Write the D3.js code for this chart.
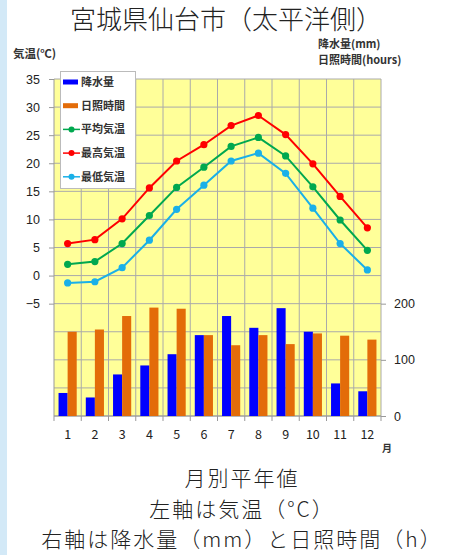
<!DOCTYPE html>
<html>
<head>
<meta charset="utf-8">
<script src="https://cdn.jsdelivr.net/npm/d3@7"></script>
<style>
  body { margin: 0; background: #fff; }
  svg { display: block; font-family: "Noto Sans CJK JP", "Noto Sans", sans-serif; }
</style>
</head>
<body>
<svg id="chart" width="452" height="555"></svg>
<script>
// month labels on the x axis
let months = ["1", "2", "3", "4", "5", "6", "7", "8", "9", "10", "11", "12"];

// right axis: precipitation (mm) and sunshine (hours)
let rain = [41, 33, 74, 90, 110, 144, 178, 157, 192, 150, 58, 44];
let sun = [150, 154, 178, 193, 191, 144, 126, 144, 128, 147, 143, 136];

// left axis: temperatures (°C)
let tempAvg = [2.0, 2.5, 5.7, 10.7, 15.7, 19.3, 23.0, 24.6, 21.3, 15.8, 9.9, 4.5];
let tempMax = [5.7, 6.4, 10.1, 15.6, 20.4, 23.3, 26.7, 28.5, 25.1, 19.9, 14.1, 8.5];
let tempMin = [-1.3, -1.1, 1.4, 6.3, 11.8, 16.1, 20.4, 21.8, 18.2, 12.0, 5.7, 1.0];

let leftTicks = [-5, 0, 5, 10, 15, 20, 25, 30, 35];
let rightTicks = [0, 100, 200];

let legendItems = [
  { label: "降水量", type: "bar", color: "#0000ff" },
  { label: "日照時間", type: "bar", color: "#e36c09" },
  { label: "平均気温", type: "line", color: "#00a84f" },
  { label: "最高気温", type: "line", color: "#ff0000" },
  { label: "最低気温", type: "line", color: "#1ab0e8" }
];

let svg = d3.select("#chart");

// light blue strip on the left edge
svg.append("rect").attr("x", 0).attr("y", 0).attr("width", 7).attr("height", 555).style("fill", "#d3e9f7");

let x = d3.scaleBand().domain(months).range([54, 381]).paddingInner(0).paddingOuter(0);
let xSub = d3.scaleBand().domain(["rain", "sun"]).range([0, x.bandwidth()]).paddingInner(0).paddingOuter(0.5);
let yL = d3.scaleLinear().domain([-25, 35]).range([416, 79]);
let yR = d3.scaleLinear().domain([0, 600]).range([416, 79]);

// plot background
svg.append("rect")
  .attr("x", 54).attr("y", 79)
  .attr("width", 381 - 54).attr("height", 416 - 79)
  .style("fill", "#ffff99");

// horizontal grid
svg.append("g").selectAll("line").data(d3.range(-25, 36, 5)).enter()
  .append("line")
  .attr("x1", 54).attr("x2", 381)
  .attr("y1", d => yL(d)).attr("y2", d => yL(d))
  .style("stroke", "#aaa").style("stroke-width", 1);

// vertical grid
svg.append("g").selectAll("line").data(d3.range(1, 13)).enter()
  .append("line")
  .attr("x1", d => 54 + x.step() * d)
  .attr("x2", d => 54 + x.step() * d)
  .attr("y1", 79).attr("y2", 416)
  .style("stroke", "#aaa").style("stroke-width", 1);

// left axis
let leftAxis = svg.append("g").attr("transform", "translate(54,0)")
  .call(d3.axisLeft(yL).tickValues(leftTicks).tickSize(5).tickPadding(9));
leftAxis.select(".domain").attr("d", "M0,79V416");
leftAxis.selectAll("line, path").style("stroke", "#999");
leftAxis.selectAll("text").style("font-size", "12.5px").style("fill", "#222");

// right axis
let rightAxis = svg.append("g").attr("transform", "translate(381,0)")
  .call(d3.axisRight(yR).tickValues(rightTicks).tickSize(5).tickPadding(8));
rightAxis.select(".domain").remove();
rightAxis.selectAll("line").style("stroke", "#999");
rightAxis.selectAll("text").style("font-size", "12.5px").style("fill", "#222");

// bottom axis (ticks at month boundaries)
svg.append("line").attr("x1", 54).attr("x2", 381).attr("y1", 416).attr("y2", 416).style("stroke", "#999");
svg.append("g").selectAll("line").data(d3.range(13)).enter()
  .append("line")
  .attr("x1", d => 54 + x.step() * d).attr("x2", d => 54 + x.step() * d)
  .attr("y1", 416).attr("y2", 421)
  .style("stroke", "#999");
svg.append("g").selectAll("text").data(months).enter()
  .append("text")
  .attr("x", d => x(d) + x.bandwidth() / 2)
  .attr("y", 439)
  .attr("text-anchor", "middle")
  .style("font-size", "12.5px").style("fill", "#222")
  .text(d => d);

// bars
svg.append("g").selectAll("rect").data(rain).enter()
  .append("rect")
  .attr("x", (d, i) => x(months[i]) + xSub("rain"))
  .attr("y", d => yR(d))
  .attr("width", xSub.bandwidth())
  .attr("height", d => yR(0) - yR(d))
  .style("fill", "#0000ff");
svg.append("g").selectAll("rect").data(sun).enter()
  .append("rect")
  .attr("x", (d, i) => x(months[i]) + xSub("sun"))
  .attr("y", d => yR(d))
  .attr("width", xSub.bandwidth())
  .attr("height", d => yR(0) - yR(d))
  .style("fill", "#e36c09");

// temperature lines
function drawLine(values, color) {
  let line = d3.line()
    .x((d, i) => x(months[i]) + x.bandwidth() / 2)
    .y(d => yL(d));
  svg.append("path").datum(values)
    .attr("d", line)
    .style("fill", "none").style("stroke", color).style("stroke-width", 2);
  svg.append("g").selectAll("circle").data(values).enter()
    .append("circle")
    .attr("cx", (d, i) => x(months[i]) + x.bandwidth() / 2)
    .attr("cy", d => yL(d))
    .attr("r", 3.6)
    .style("fill", color);
}
drawLine(tempAvg, "#00a84f");
drawLine(tempMax, "#ff0000");
drawLine(tempMin, "#1ab0e8");

// legend
let legend = svg.append("g");
legend.append("rect")
  .attr("x", 60.5).attr("y", 71.5).attr("width", 75).attr("height", 117)
  .style("fill", "#fff").style("stroke", "#bbb");
let li = legend.selectAll("g").data(legendItems).enter()
  .append("g")
  .attr("transform", (d, i) => "translate(0," + (82 + i * 23.7) + ")");
li.filter(d => d.type === "bar").append("rect")
  .attr("x", 63).attr("y", -2.5).attr("width", 15).attr("height", 5)
  .style("fill", d => d.color);
li.filter(d => d.type === "line").append("line")
  .attr("x1", 63).attr("x2", 80).attr("y1", 0).attr("y2", 0)
  .style("stroke", d => d.color).style("stroke-width", 1.5);
li.filter(d => d.type === "line").append("circle")
  .attr("cx", 71.5).attr("cy", 0).attr("r", 3)
  .style("fill", d => d.color);
li.append("text")
  .attr("x", 81).attr("y", 4)
  .style("font-size", "11px").style("font-weight", "bold").style("fill", "#333")
  .text(d => d.label);

// titles and axis captions
svg.append("text").attr("x", 226).attr("y", 29).attr("text-anchor", "middle")
  .style("font-size", "26px").style("font-weight", "300").style("fill", "#222")
  .text("宮城県仙台市（太平洋側）");
svg.append("text").attr("x", 13).attr("y", 58)
  .style("font-size", "11.5px").style("font-weight", "bold").style("fill", "#333")
  .text("気温(℃)");
svg.append("text").attr("x", 318).attr("y", 48)
  .style("font-size", "11px").style("font-weight", "bold").style("fill", "#333")
  .text("降水量(mm)");
svg.append("text").attr("x", 318).attr("y", 64)
  .style("font-size", "11px").style("font-weight", "bold").style("fill", "#333")
  .text("日照時間(hours)");
svg.append("text").attr("x", 387).attr("y", 452).attr("text-anchor", "middle")
  .style("font-size", "10px").style("font-weight", "bold").style("fill", "#333")
  .text("月");

// caption block under the chart
let notes = ["月別平年値", "左軸は気温（°C）", "右軸は降水量（mm）と日照時間（h）"];
svg.append("g").selectAll("text").data(notes).enter()
  .append("text")
  .attr("x", 242)
  .attr("y", (d, i) => 486 + i * 30.5)
  .attr("text-anchor", "middle")
  .style("font-size", "21px").style("font-weight", "300")
  .style("letter-spacing", "2px").style("fill", "#222")
  .text(d => d);
</script>
</body>
</html>
